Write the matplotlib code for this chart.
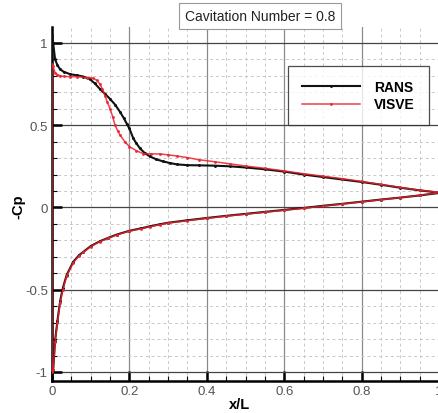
import numpy as np
import matplotlib
matplotlib.use("Agg")
import matplotlib.pyplot as plt
from matplotlib.ticker import MultipleLocator

plt.rcParams['font.family'] = ['Liberation Sans', 'DejaVu Sans']

# suction side (upper branch)
x_up_rans = [0.0, 0.003, 0.008, 0.014, 0.021, 0.03, 0.047, 0.065, 0.081, 0.098, 0.11, 0.124,
             0.137, 0.15, 0.163, 0.176, 0.185, 0.193, 0.2, 0.21, 0.218, 0.227, 0.24, 0.253,
             0.27, 0.287, 0.305, 0.322, 0.35, 0.38, 0.42, 0.46, 0.5, 0.55, 0.6, 0.65, 0.7,
             0.75, 0.8, 0.85, 0.9, 0.95, 1.0]
cp_up_rans = [1.05, 1.0, 0.9, 0.865, 0.84, 0.825, 0.81, 0.803, 0.796, 0.78, 0.755, 0.72,
              0.69, 0.66, 0.625, 0.58, 0.545, 0.51, 0.48, 0.42, 0.39, 0.36, 0.33, 0.31,
              0.292, 0.28, 0.27, 0.262, 0.257, 0.256, 0.254, 0.25, 0.243, 0.232, 0.218, 0.2,
              0.185, 0.17, 0.155, 0.138, 0.12, 0.104, 0.09]

x_up_visve = [0.0, 0.002, 0.008, 0.014, 0.021, 0.03, 0.047, 0.065, 0.09, 0.107, 0.116, 0.124,
              0.13, 0.137, 0.143, 0.15, 0.157, 0.163, 0.17, 0.176, 0.188, 0.2, 0.218, 0.236,
              0.255, 0.279, 0.3, 0.322, 0.35, 0.38, 0.42, 0.46, 0.5, 0.55, 0.6, 0.65, 0.7,
              0.75, 0.8, 0.85, 0.9, 0.95, 1.0]
cp_up_visve = [0.87, 0.86, 0.82, 0.808, 0.80, 0.797, 0.795, 0.795, 0.79, 0.786, 0.772, 0.75,
               0.72, 0.68, 0.64, 0.6, 0.55, 0.5, 0.465, 0.44, 0.4, 0.37, 0.345, 0.327,
               0.326, 0.325, 0.32, 0.313, 0.303, 0.29, 0.278, 0.265, 0.252, 0.238, 0.222,
               0.205, 0.19, 0.175, 0.158, 0.14, 0.122, 0.105, 0.092]

# pressure side (lower branch)
x_lo = [0.0, 0.003, 0.008, 0.014, 0.021, 0.028, 0.038, 0.055, 0.07, 0.081, 0.1, 0.124, 0.145,
        0.167, 0.2, 0.23, 0.253, 0.279, 0.3, 0.35, 0.4, 0.45, 0.5, 0.55, 0.6, 0.65, 0.7,
        0.75, 0.8, 0.85, 0.9, 0.95, 1.0]
cp_lo_rans = [-1.0, -0.99, -0.81, -0.69, -0.57, -0.49, -0.41, -0.33, -0.29, -0.27, -0.235,
              -0.205, -0.185, -0.165, -0.142, -0.127, -0.115, -0.102, -0.093, -0.078, -0.064,
              -0.051, -0.039, -0.027, -0.015, -0.003, 0.01, 0.022, 0.035, 0.048, 0.06,
              0.073, 0.088]
cp_lo_visve = [-1.0, -0.99, -0.82, -0.70, -0.58, -0.50, -0.415, -0.335, -0.293, -0.273,
               -0.238, -0.207, -0.187, -0.167, -0.144, -0.129, -0.117, -0.104, -0.095,
               -0.08, -0.066, -0.053, -0.041, -0.029, -0.017, -0.005, 0.008, 0.021, 0.034,
               0.047, 0.06, 0.074, 0.09]

fig = plt.figure(figsize=(4.38, 4.14), dpi=100)
ax = fig.add_axes([52 / 438, 32 / 414, 387 / 438, 354 / 414])

# one line per series: trailing edge -> upper -> leading edge -> lower -> trailing edge
xr = x_up_rans[::-1] + x_lo
yr = cp_up_rans[::-1] + cp_lo_rans
xv = x_up_visve[::-1] + x_lo
yv = cp_up_visve[::-1] + cp_lo_visve

ax.plot(xr, yr, color='#111111', lw=1.5, marker='.', ms=2.2, label='RANS', zorder=3)
ax.plot(xv, yv, color='#e8202a', lw=1.1, marker='.', ms=2.2, mfc='#f07080', mec='#e8202a',
        alpha=0.85, label='VISVE', zorder=4)

ax.set_xlim(0, 1.0)
ax.set_ylim(-1.055, 1.097)

ax.xaxis.set_major_locator(MultipleLocator(0.2))
ax.xaxis.set_minor_locator(MultipleLocator(0.05))
ax.yaxis.set_major_locator(MultipleLocator(0.5))
ax.yaxis.set_minor_locator(MultipleLocator(0.1))
ax.set_xticks([0, 0.2, 0.4, 0.6, 0.8, 1.0])
ax.set_xticklabels(['0', '0.2', '0.4', '0.6', '0.8', '1'])
ax.set_yticks([-1, -0.5, 0, 0.5, 1])
ax.set_yticklabels(['-1', '-0.5', '0', '0.5', '1'])

ax.grid(which='minor', color='#c8c8c8', lw=0.7, ls=(0, (3, 3)))
ax.grid(which='major', axis='x', color='#8a8a8a', lw=0.9)
ax.grid(which='major', axis='y', color='#444444', lw=0.9)
ax.set_axisbelow(True)

for s in ['top', 'right']:
    ax.spines[s].set_visible(False)
for s in ['left', 'bottom']:
    ax.spines[s].set_linewidth(1.8)

ax.tick_params(which='major', direction='in', length=7, width=1.8, labelsize=9.5,
               labelcolor='#555555', pad=3)
ax.tick_params(which='minor', direction='in', length=3.5, width=0.8)

fig.text(18 / 438, 1 - 207 / 414, '-Cp', rotation=90, fontsize=10.5, fontweight='bold',
         ha='center', va='center')
fig.text(240 / 438, 1 - 405 / 414, 'x/L', fontsize=10.5, fontweight='bold',
         ha='center', va='center')
fig.text(260 / 438, 1 - 17 / 414, 'Cavitation Number = 0.8', fontsize=10, color='#222222',
         ha='center', va='center',
         bbox=dict(boxstyle='square,pad=0.4', fc='white', ec='#999999', lw=0.8))

leg = ax.legend(loc='upper left', bbox_to_anchor=(288 / 438, 1 - 67 / 414),
                bbox_transform=fig.transFigure, frameon=True, fancybox=False,
                borderaxespad=0, handlelength=4.2, borderpad=1.0, labelspacing=0.25,
                handletextpad=1.0, prop={'weight': 'bold', 'size': 10})
leg.get_frame().set_edgecolor('#222222')
leg.get_frame().set_linewidth(0.9)

fig.savefig('out.png', dpi=100)
